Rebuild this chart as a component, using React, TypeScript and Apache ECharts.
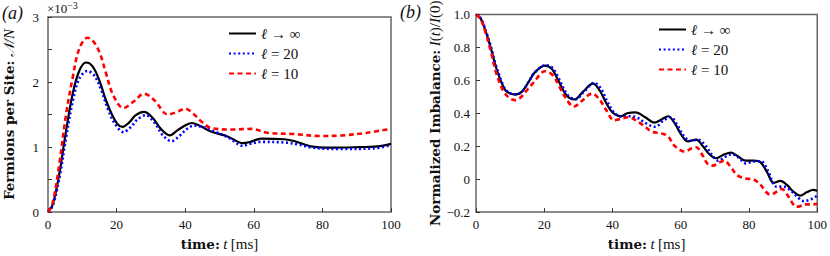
import React, { useEffect, useRef } from "react";
import * as echarts from "echarts";

// Panel (a): fermions per site, values in units of 1e-3, [t (ms), value]
const fermionsInf: [number, number][] = [
  [0, 0], [1.4, 0.12], [3.3, 0.59], [5.2, 1.23], [7.2, 1.82], [9.1, 2.17], [11.1, 2.3], [13, 2.24],
  [15, 2.02], [16.9, 1.72], [18.8, 1.48], [20.3, 1.35], [21.7, 1.31], [23.7, 1.38], [25.6, 1.49],
  [28, 1.54], [30.5, 1.45], [32.9, 1.28], [35.5, 1.18], [37.8, 1.26], [40.2, 1.34], [41.9, 1.37],
  [44.1, 1.33], [47.5, 1.24], [52.5, 1.16], [56.8, 1.06], [59, 1.08], [62.1, 1.13], [68.9, 1.12],
  [72, 1.09], [76.6, 1.01], [82.4, 0.99], [91, 1.0], [96, 1.01], [100, 1.05],
];
const fermions20: [number, number][] = [
  [0, 0], [1.4, 0.1], [3.3, 0.52], [5.2, 1.12], [7.2, 1.7], [9.1, 2.05], [11.5, 2.17], [13.5, 2.1],
  [15.5, 1.88], [17.5, 1.58], [19.5, 1.36], [22, 1.23], [24, 1.3], [26, 1.42], [28.5, 1.49],
  [31, 1.38], [33.5, 1.18], [36, 1.09], [38.5, 1.18], [40.5, 1.28], [42.5, 1.33], [45, 1.31],
  [47.5, 1.26], [52.5, 1.15], [56.8, 1.02], [59, 1.05], [62, 1.08], [69, 1.07], [73, 1.04],
  [77, 0.99], [85, 0.97], [95, 0.98], [100, 1.03],
];
const fermions10: [number, number][] = [
  [0, 0], [1.4, 0.15], [3.3, 0.74], [5.2, 1.48], [7.2, 2.07], [9.1, 2.51], [11.5, 2.68], [13, 2.64],
  [15, 2.46], [17, 2.12], [19, 1.8], [22, 1.6], [25, 1.7], [28, 1.82], [31, 1.72], [35, 1.5],
  [38, 1.55], [40, 1.59], [42, 1.53], [45, 1.38], [47.7, 1.29], [53.5, 1.27], [59.3, 1.28],
  [64, 1.22], [71.7, 1.2], [79.5, 1.17], [86, 1.18], [93, 1.22], [100, 1.28],
];

// Panel (b): normalized imbalance I(t)/I(0), [t (ms), value]
const imbalanceInf: [number, number][] = [
  [0, 1.0], [1.4, 0.975], [2.8, 0.9], [4.3, 0.8], [5.7, 0.69], [7.2, 0.6], [8.6, 0.54], [10.1, 0.52],
  [11.5, 0.514], [13.4, 0.53], [15.4, 0.59], [17.3, 0.65], [20.2, 0.69], [22.2, 0.67], [24.1, 0.6],
  [26.5, 0.51], [28.9, 0.484], [31.3, 0.53], [34.3, 0.58], [36.2, 0.54], [38.1, 0.465], [40, 0.405],
  [42.5, 0.382], [44.3, 0.4], [46.7, 0.406], [49.6, 0.376], [52.3, 0.343], [54.4, 0.363],
  [56.3, 0.382], [58.3, 0.337], [60.2, 0.269], [62.1, 0.23], [64.5, 0.24], [66.5, 0.2],
  [68.4, 0.151], [70.3, 0.127], [72.8, 0.151], [74.7, 0.161], [76.6, 0.141], [79, 0.112],
  [81.4, 0.112], [83.4, 0.102], [85.3, 0.043], [87.2, -0.022], [89.2, -0.01], [91.1, -0.035],
  [93, -0.075], [95, -0.1], [96.9, -0.08], [98.8, -0.065], [100, -0.07],
];
const imbalance20: [number, number][] = [
  [0, 1.0], [1.4, 0.978], [2.8, 0.905], [4.3, 0.81], [5.7, 0.7], [7.2, 0.61], [8.6, 0.545],
  [10.1, 0.52], [11.6, 0.515], [13.4, 0.53], [15.4, 0.59], [17.3, 0.65], [20.5, 0.692],
  [22.4, 0.675], [24.3, 0.61], [26.7, 0.515], [29.2, 0.485], [31.6, 0.53], [34.6, 0.585],
  [36.6, 0.55], [38.5, 0.47], [40.4, 0.405], [42.5, 0.38], [45, 0.382], [47, 0.376], [50, 0.337],
  [52.5, 0.318], [55, 0.357], [57, 0.376], [59, 0.327], [61, 0.259], [63, 0.233], [65, 0.24],
  [67, 0.21], [69, 0.151], [71, 0.112], [73, 0.135], [75, 0.151], [77, 0.131], [79, 0.096],
  [81.5, 0.108], [83.5, 0.108], [85.5, 0.053], [88, -0.045], [90, -0.045], [92, -0.065],
  [94, -0.104], [96, -0.133], [98, -0.124], [100, -0.1],
];
const imbalance10: [number, number][] = [
  [0, 1.0], [1.4, 0.97], [2.8, 0.89], [4.3, 0.78], [5.7, 0.66], [7.2, 0.57], [8.5, 0.52], [10, 0.49],
  [11.3, 0.48], [13, 0.495], [14.5, 0.53], [17, 0.59], [20.2, 0.655], [22.5, 0.63], [25, 0.54],
  [27, 0.47], [28.6, 0.44], [31, 0.475], [34, 0.52], [36, 0.49], [38, 0.425], [40.5, 0.357],
  [41.8, 0.363], [44.7, 0.376], [47.6, 0.347], [49.6, 0.318], [51.5, 0.288], [54.4, 0.278],
  [56.3, 0.259], [58.3, 0.2], [61.2, 0.167], [63.1, 0.186], [64.5, 0.194], [66.5, 0.141],
  [67.9, 0.092], [69.4, 0.082], [71.3, 0.102], [72.8, 0.112], [74.7, 0.072], [76.6, 0.023],
  [79, 0.004], [81.4, -0.002], [83.4, -0.035], [85.3, -0.084], [86.2, -0.094], [88.2, -0.075],
  [89.6, -0.06], [91.5, -0.104], [93.4, -0.163], [94.4, -0.167], [96.4, -0.153], [98.8, -0.153],
  [100, -0.15],
];

const seriesNames = ["ℓ → ∞", "ℓ = 20", "ℓ = 10"];
const xTicks = { min: 0, max: 100, interval: 20 };
const yTicksA = { min: 0, max: 3, interval: 0.5 };
const yTicksB = { min: -0.2, max: 1.0, interval: 0.2 };

const SERIF = "'Liberation Serif', 'DejaVu Serif', serif";
const WIDE_SERIF = "'DejaVu Serif', 'Liberation Serif', serif";

export default function App() {
  const ref = useRef<HTMLDivElement>(null);
  useEffect(() => {
    if (!ref.current) return;
    const chart = echarts.init(ref.current, undefined, { renderer: "svg" });

    const styles = [
      { color: "#000000", width: 2.2, type: "solid" as any },
      { color: "#0000ff", width: 2.6, type: [2, 2.6] as any },
      { color: "#ff0000", width: 2.6, type: [5, 3.5] as any },
    ];
    const dataA = [fermionsInf, fermions20, fermions10];
    const dataB = [imbalanceInf, imbalance20, imbalance10];

    const mkSeries = (d: [number, number][], i: number, idx: number) => ({
      type: "line",
      name: seriesNames[i],
      xAxisIndex: idx,
      yAxisIndex: idx,
      data: d,
      smooth: 0.35,
      symbol: "none",
      showSymbol: false,
      lineStyle: { ...styles[i], cap: "butt" },
      itemStyle: { color: styles[i].color },
      z: 2 + i,
    });

    const tickLabel = { fontFamily: SERIF, fontSize: 13, color: "#111" };
    const xName = "{b|time:} {i|t} {r|[ms]}";
    const nameRich = {
      b: { fontFamily: WIDE_SERIF, fontWeight: "bold", fontSize: 13.5, color: "#111" },
      i: { fontFamily: SERIF, fontStyle: "italic", fontSize: 15, color: "#111" },
      r: { fontFamily: SERIF, fontSize: 15, color: "#111" },
    };

    const mkX = (gi: number) => ({
      type: "value",
      gridIndex: gi,
      ...xTicks,
      axisLine: { show: false, onZero: false },
      axisTick: { show: true, inside: true, length: 4, lineStyle: { color: "#333" } },
      splitLine: { show: false },
      axisLabel: { ...tickLabel, margin: 6 },
      name: xName,
      nameLocation: "middle",
      nameGap: 18,
      nameTextStyle: { rich: nameRich, verticalAlign: "top" },
    });

    const legendFmt = (n: string) => {
      const rest = n.slice(1);
      return "{i|ℓ}{r|" + rest + "}";
    };
    const legendRich = {
      i: { fontFamily: SERIF, fontStyle: "italic", fontSize: 15, color: "#111" },
      r: { fontFamily: SERIF, fontSize: 15, color: "#111" },
    };
    const legendBase = {
      data: seriesNames,
      orient: "vertical",
      itemWidth: 27,
      itemHeight: 14,
      itemGap: 5,
      formatter: legendFmt,
      textStyle: { rich: legendRich },
      selectedMode: false,
      itemStyle: { opacity: 0 },
    };

    const option: any = {
      animation: false,
      backgroundColor: "#ffffff",
      grid: [
        { left: 45, top: 17, width: 346, height: 203, show: true, borderColor: "#666", borderWidth: 1.5, backgroundColor: "transparent" },
        { left: 476, top: 14.5, width: 345, height: 203.5, show: true, borderColor: "#666", borderWidth: 1.5, backgroundColor: "transparent" },
      ],
      legend: [
        { ...legendBase, left: 223, top: 21 },
        { ...legendBase, left: 653, top: 17 },
      ],
      xAxis: [mkX(0), mkX(1)],
      yAxis: [
        {
          type: "value", gridIndex: 0, ...yTicksA,
          axisLine: { show: false, onZero: false },
          axisTick: { show: true, inside: true, length: 4, lineStyle: { color: "#333" } },
          splitLine: { show: false },
          axisLabel: {
            ...tickLabel, margin: 9,
            formatter: (v: number) => (Math.abs(v - Math.round(v)) < 1e-9 ? String(Math.round(v)) : ""),
          },
          name: "{b|Fermions per Site:} {i|𝒩/N}",
          nameLocation: "middle", nameRotate: 90, nameGap: 32,
          nameTextStyle: { rich: nameRich },
        },
        {
          type: "value", gridIndex: 1, ...yTicksB,
          axisLine: { show: false, onZero: false },
          axisTick: { show: true, inside: true, length: 4, lineStyle: { color: "#333" } },
          splitLine: { show: false },
          axisLabel: {
            ...tickLabel, margin: 6,
            formatter: (v: number) =>
              Math.abs(v) < 1e-9 ? "0" : v < 0 ? "−" + Math.abs(v).toFixed(1) : v.toFixed(1),
          },
          name: "{b|Normalized Imbalance:} {i|I}{r|(}{i|t}{r|)/}{i|I}{r|(0)}",
          nameLocation: "middle", nameRotate: 90, nameGap: 33,
          nameTextStyle: { rich: nameRich },
        },
      ],
      graphic: [
        { type: "text", left: 2, top: 4, style: { text: "(a)", font: `italic 18px ${SERIF}`, fill: "#111" } },
        { type: "text", left: 400, top: 3, style: { text: "(b)", font: `italic 18px ${SERIF}`, fill: "#111" } },
        { type: "text", left: 47, top: 2, style: { text: "×10", font: `13px ${SERIF}`, fill: "#111" } },
        { type: "text", left: 67, top: 0, style: { text: "−3", font: `10px ${SERIF}`, fill: "#111" } },
      ],
      series: [
        ...dataA.map((d, i) => mkSeries(d, i, 0)),
        ...dataB.map((d, i) => mkSeries(d, i, 1)),
      ],
    };
    chart.setOption(option);
    return () => chart.dispose();
  }, []);

  return (
    <div
      ref={ref}
      style={{ position: "fixed", left: 0, top: 0, width: 830, height: 256, background: "#fff" }}
    />
  );
}
